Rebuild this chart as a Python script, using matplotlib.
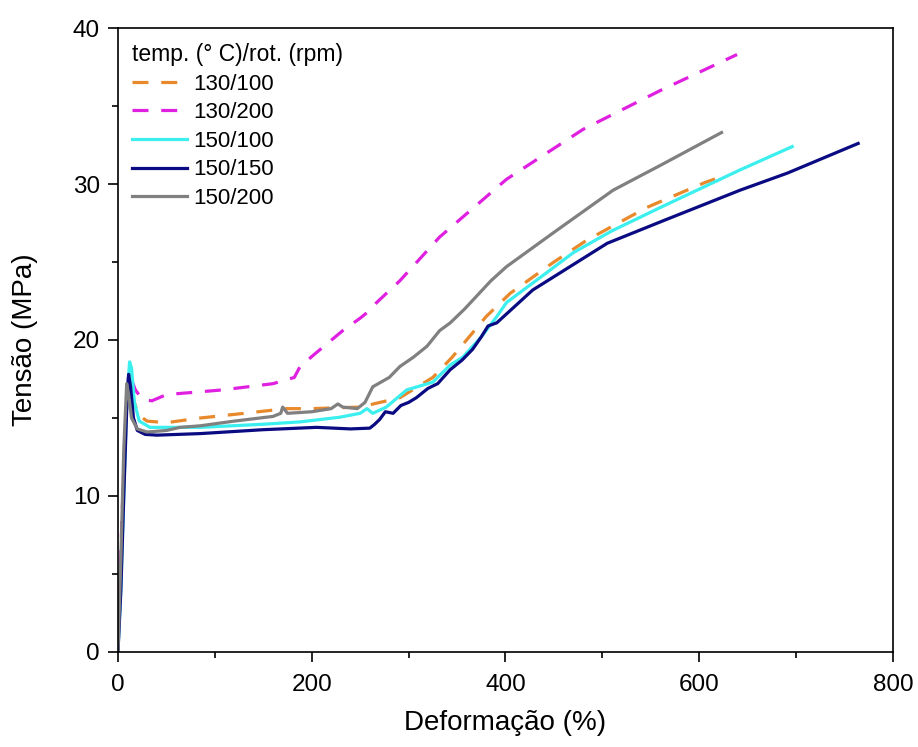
import matplotlib
matplotlib.use("Agg")
import matplotlib.pyplot as plt
from matplotlib.ticker import MultipleLocator

plt.rcParams['font.family'] = ['Liberation Sans', 'DejaVu Sans']

# 130/100
x_130_100 = [0, 3, 6, 8, 11, 13, 16, 21, 30, 50, 85, 123, 174, 200, 250, 291, 325, 345, 380, 405, 450, 484, 546, 606, 620]
y_130_100 = [0, 5, 11, 15, 17.5, 17.2, 16.2, 15.2, 14.8, 14.7, 15.0, 15.25, 15.6, 15.6, 15.7, 16.3, 17.6, 18.9, 21.5, 23.0, 25.0, 26.4, 28.5, 30.1, 30.4]

# 130/200
x_130_200 = [0, 4, 8, 11, 13, 18, 25, 35, 50, 108, 160, 182, 188, 205, 232, 250, 258, 267, 291, 332, 401, 480, 560, 639]
y_130_200 = [0, 8.3, 15, 17.9, 17.6, 16.8, 16.2, 16.1, 16.5, 16.8, 17.2, 17.6, 18.3, 19.2, 20.6, 21.4, 21.8, 22.4, 23.8, 26.6, 30.3, 33.5, 36.0, 38.3]

# 150/100
x_150_100 = [0, 3, 6, 9, 12, 14, 17, 22, 33, 85, 150, 188, 229, 250, 257, 263, 277, 298, 325, 343, 356, 375, 391, 401, 440, 470, 510, 560, 642, 696]
y_150_100 = [0, 4, 10, 16, 18.6, 18.2, 16.0, 14.8, 14.4, 14.4, 14.6, 14.75, 15.05, 15.3, 15.6, 15.3, 15.7, 16.8, 17.3, 18.4, 18.9, 20.2, 21.5, 22.4, 24.2, 25.6, 27.0, 28.5, 30.9, 32.4]

# 150/150
x_150_150 = [0, 3, 6, 9, 11, 13, 16, 20, 28, 40, 85, 150, 205, 240, 260, 265, 270, 276, 284, 292, 300, 308, 320, 330, 343, 355, 366, 375, 382, 391, 428, 505, 565, 642, 691, 764]
y_150_150 = [0, 4, 10, 15.5, 17.8, 17.0, 15.0, 14.2, 13.95, 13.9, 14.0, 14.25, 14.4, 14.3, 14.35, 14.6, 14.9, 15.4, 15.3, 15.8, 16.0, 16.3, 16.9, 17.2, 18.1, 18.7, 19.4, 20.2, 20.9, 21.1, 23.2, 26.2, 27.7, 29.6, 30.7, 32.6]

# 150/200
x_150_200 = [0, 3, 6, 9, 11, 14, 20, 30, 50, 64, 85, 120, 160, 168, 170, 175, 200, 220, 227, 232, 247, 255, 263, 280, 291, 305, 319, 332, 343, 358, 370, 385, 401, 450, 511, 560, 623]
y_150_200 = [0, 6, 13, 17.2, 16.5, 15.0, 14.3, 14.1, 14.2, 14.4, 14.5, 14.8, 15.1, 15.3, 15.7, 15.3, 15.4, 15.6, 15.9, 15.7, 15.6, 16.0, 17.0, 17.6, 18.3, 18.9, 19.6, 20.6, 21.1, 22.0, 22.8, 23.8, 24.7, 26.9, 29.6, 31.2, 33.3]

labels = ['130/100', '130/200', '150/100', '150/150', '150/200']
colors = ['#E8892B', '#E020E0', '#3CEFEF', '#0A0A82', '#808080']
styles = ['dashed', 'dashed', 'solid', 'solid', 'solid']

series = [(x_130_100, y_130_100), (x_130_200, y_130_200), (x_150_100, y_150_100),
          (x_150_150, y_150_150), (x_150_200, y_150_200)]

fig = plt.figure(figsize=(9.18, 7.47), dpi=100)
ax = fig.add_axes([0.1285, 0.1272, 0.8443, 0.8353])

for (xs, ys), lab, c, ls in zip(series, labels, colors, styles):
    line, = ax.plot(xs, ys, color=c, lw=2.3, label=lab)
    if ls == 'dashed':
        line.set_dashes((5, 4))

ax.set_xlim(0, 800)
ax.set_ylim(0, 40)
ax.xaxis.set_major_locator(MultipleLocator(200))
ax.xaxis.set_minor_locator(MultipleLocator(100))
ax.yaxis.set_major_locator(MultipleLocator(10))
ax.yaxis.set_minor_locator(MultipleLocator(5))
ax.tick_params(which='both', direction='out', top=False, right=False, width=1.2)
ax.tick_params(which='major', length=7, labelsize=17.5)
ax.tick_params(axis='x', which='major', pad=9)
ax.tick_params(axis='y', which='major', pad=6)
ax.tick_params(which='minor', length=4)
for s in ax.spines.values():
    s.set_linewidth(1.2)

ax.set_xlabel('Deformação (%)', fontsize=20, labelpad=10)
ax.set_ylabel('Tensão (MPa)', fontsize=20, labelpad=25)

leg = ax.legend(loc='upper left', frameon=False, fontsize=16,
                title='temp. (° C)/rot. (rpm)', title_fontsize=16.5,
                handlelength=2.5, handletextpad=0.3, labelspacing=0.34,
                borderaxespad=0.0, bbox_to_anchor=(0.006, 0.99))
leg._legend_box.align = 'left'

fig.savefig('out.png', dpi=100)
